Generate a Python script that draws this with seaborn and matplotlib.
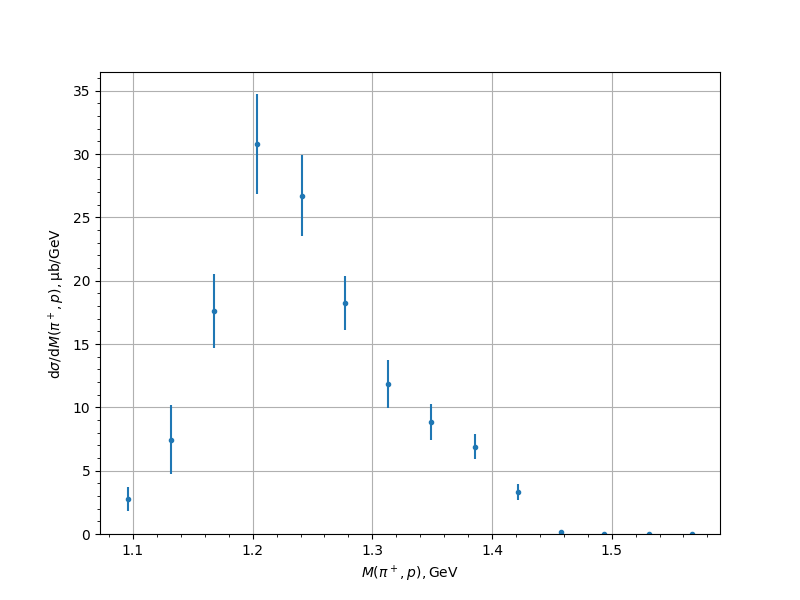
import numpy as np
import matplotlib
matplotlib.use("Agg")
import matplotlib.pyplot as plt
import seaborn as sns
from matplotlib.ticker import AutoMinorLocator

# Data
mass = [1.096, 1.132, 1.168, 1.204, 1.241, 1.277, 1.313, 1.349, 1.386, 1.422, 1.458, 1.494, 1.531, 1.567]
xsec = [2.8, 7.45, 17.6, 30.8, 26.7, 18.25, 11.85, 8.85, 6.9, 3.3, 0.15, 0.02, 0.01, 0.01]
xsec_err = [0.95, 2.7, 2.9, 3.95, 3.2, 2.15, 1.9, 1.4, 1.0, 0.65, 0.08, 0.02, 0.01, 0.01]

plt.rcParams['font.family'] = ['DejaVu Sans']

fig, ax = plt.subplots(figsize=(8, 6), dpi=100)

ax.errorbar(mass, xsec, yerr=xsec_err, fmt='.', color=sns.color_palette("tab10")[0])

ax.set_ylim(bottom=0)
ax.xaxis.set_minor_locator(AutoMinorLocator())
ax.yaxis.set_minor_locator(AutoMinorLocator())
ax.grid(True)
ax.set_axisbelow(True)

ax.set_xlabel(r'$M(\pi^+,p), \mathrm{GeV}$')
ax.set_ylabel(r'$\mathrm{d}\sigma/\mathrm{d}M(\pi^+,p), \mathrm{\mu b/GeV}$')

fig.savefig("out.png", dpi=100)
